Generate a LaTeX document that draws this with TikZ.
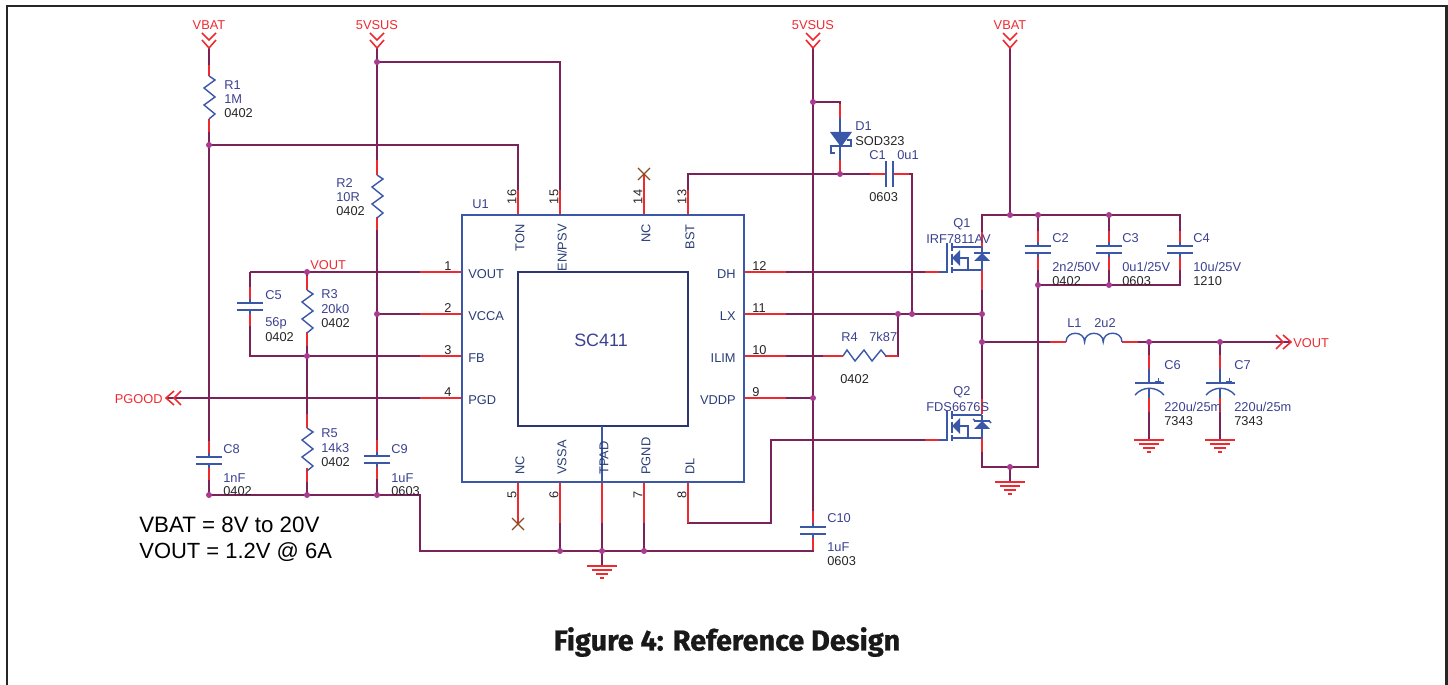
\documentclass[tikz,border=0pt]{standalone}
\usepackage{fontspec}
\setmainfont{Liberation Sans}
\newfontfamily\capfont[BoldFeatures={FakeBold=.8}]{Fira Sans}
\definecolor{wirecol}{HTML}{7B2358}
\definecolor{pincol}{HTML}{EE2A30}
\definecolor{symcol}{HTML}{3A57A8}
\definecolor{txtcol}{HTML}{3B4190}
\definecolor{dotcol}{HTML}{A83C92}
\definecolor{nccol}{HTML}{8A4A22}
\tikzset{
  wire/.style={wirecol, line width=.85pt},
  pinline/.style={pincol, line width=.8pt},
  sym/.style={symcol, line width=.8pt},
  txtblue/.style={txtcol, anchor=west, inner sep=0pt, font=\fontsize{7.3}{8}\selectfont},
  txtblack/.style={black!85, anchor=west, inner sep=0pt, font=\fontsize{7.3}{8}\selectfont},
  txtred/.style={pincol, inner sep=0pt, font=\fontsize{7.3}{8}\selectfont},
  txtpin/.style={symcol!70!black, inner sep=0pt, font=\fontsize{7.3}{8}\selectfont},
  res/.pic={\draw[sym] (0,0) -- (6,4) -- (-5,12) -- (6,21) -- (-5,29) -- (6,38) -- (0,43);},
  cap/.pic={\draw[sym] (-13,0) -- (13,0) (-13,7) -- (13,7) (0,-4) -- (0,0) (0,7) -- (0,11);},
  capside/.pic={\draw[sym] (-13,0) -- (13,0) (-13,7) -- (13,7);},
  polcap/.pic={
    \draw[sym] (0,-14) -- (0,0) (-14,0) -- (15,0) (0,6) -- (0,15);
    \draw[sym] (-14,12) .. controls (-6,3) and (7,3) .. (15,12);
    \draw[sym, line width=.5pt] (6,-2) -- (12,-2) (9,-5) -- (9,1);
  },
  gnd/.pic={\draw[pincol, line width=1pt] (-15,0) -- (15,0) (-10,4) -- (10,4) (-6,8) -- (6,8) (-2,12) -- (2,12);},
  port/.pic={\draw[pincol, line width=.9pt] (-7,-8) -- (0,0) -- (7,-8) (-7,-15) -- (0,-8) -- (7,-15);},
  ncmark/.pic={\draw[nccol, line width=.7pt] (-6,-6) -- (6,6) (-6,6) -- (6,-6);},
  fet/.pic={
    \draw[sym] (-8,0) -- (0,0) -- (0,-29);
    \draw[sym] (5,-29) -- (5,-21) (5,-18) -- (5,-7) (5,-5) -- (5,1);
    \draw[sym] (5,-25) -- (35,-25) (5,-2) -- (35,-2) (35,-25) -- (35,-2);
    \fill[symcol] (5,-14) -- (13,-22) -- (13,-6) -- cycle;
    \draw[sym] (13,-14) -- (21,-14) -- (21,-2);
    \fill[symcol] (35,-19) -- (27,-11) -- (43,-11) -- cycle;
    \draw[sym] (27,-19) -- (43,-19);
  },
}
\begin{document}
\begin{tikzpicture}[x=.02cm, y=-.02cm]
  \useasboundingbox (0,0) rectangle (1448,685);
  \foreach \n/\x/\y in {
    fa/7/685, fb/7/6, fc/1446.5/6, fd/1446.5/685,
    pbata/209/48, psusa/377/48, psusb/813/48, pbatb/1010/48, ppg/166/398, pvo/1291/342,
    r1a/209/76, r1b/209/119, r2a/377/175, r2b/377/217, r3a/307/290, r3b/307/332,
    r5a/307/428, r5b/307/468, r4a/843/356, r4b/885/356,
    c8a/209/457, c8b/209/464, c9a/377/456, c9b/377/463, c5a/250/303, c5b/250/310,
    c10a/813/527, c10b/813/534, c2a/1038/246, c2b/1038/253, c3a/1109/246, c3b/1109/253,
    c4a/1180/246, c4b/1180/253, c1a/886/174, c1b/893/174, c6a/1149/369, c6b/1149/398,
    c7a/1220/369, c7b/1220/398,
    pin16/518/215, pin15/560/215, pin14/644/215, pin13/688/215,
    pin1/462/272, pin2/462/314, pin3/462/356, pin4/462/398,
    pin12/744/272, pin11/744/314, pin10/744/356, pin9/744/398,
    pin5/518/482, pin6/560/482, pintp/602/482, pin7/644/482, pin8/688/482,
    jra/209/145, jrb/209/495, jrc/307/495, jrd/377/495, jre/420/495, jrf/420/551,
    jsa/377/62, jsb/377/314, jsc/307/272, jsd/307/356, cvt/250/272, cvb/250/356,
    jba/560/551, jbb/602/551, jbc/644/551, jbd/813/551,
    jda/813/102, jdb/840/102, da/840/118, db/840/160, jdc/840/174, jdd/688/174, jde/912/174,
    jlx/912/314, jsw/982/314, jr4/898/314, r4c/898/356, jvd/813/398,
    q1g/947/272, q2g/947/440, q1d/982/247, q1s/982/270, q2d/982/414, q2s/982/437,
    jta/982/215, jtb/1010/215, jtc/1038/215, jtd/1109/215, jte/1180/215,
    jua/1038/285, jub/1109/285, juc/1180/285, jva/1038/467, jvb/1010/467, jvc/982/467,
    jl/982/342, l1a/1066/342, l1b/1122/342, jc6/1149/342, jc7/1220/342,
    p8a/688/523, p8b/771/523, p8c/771/440, x14/644/174, x5/518/524,
    g1/602/566, g2/1010/482, g3/1149/440, g4/1220/440, uta/462/215, utb/744/482, uia/518/272, uib/688/426, tpt/602/426}
    \coordinate (\n) at (\x,\y);
  \draw [black!85, line width=1.2pt] (fa) -- (fb) -- (fc) -- (fd);
  % wires
  \draw [wire] (pbata) -- (r1a) (r1b) -- (jra) -- (c8a) (c8b) -- (jrb) -- (jre) -- (jrf) -- (jbd) -- (c10b);
  \draw [wire] (jra) -| (pin16) (psusa) -- (r2a) (jsa) -| (pin15) (r2b) -- (c9a) (c9b) -- (jrd);
  \draw [wire] (jsb) -- (pin2) (cvt) -- (pin1) (cvt) -- (c5a) (c5b) -- (cvb) -- (pin3);
  \draw [wire] (jsc) -- (r3a) (r3b) -- (r5a) (r5b) -- (jrc) (ppg) -- (pin4);
  \draw [wire] (pin6) -- (jba) (pintp) -- (g1) (pin7) -- (jbc);
  \draw [wire] (pin8) -- (p8a) -- (p8b) -- (p8c) -- (q2g);
  \draw [wire] (pin13) -- (jdd) -- (c1a) (c1b) -- (jde) -- (jlx);
  \draw [wire] (pin12) -- (q1g) (pin11) -- (jsw) (pin10) -- (r4a) (r4b) -- (r4c) -- (jr4) (pin9) -- (jvd);
  \draw [wire] (psusb) -- (c10a) (jda) -- (jdb) -- (da) (db) -- (jdc);
  \draw [wire] (pbatb) -- (jtb) (q1d) -- (jta) -- (jte) -- (c4a) (jtc) -- (c2a) (jtd) -- (c3a);
  \draw [wire] (c2b) -- (jva) -- (jvc) -- (q2s) (jua) -- (juc) -- (c4b) (c3b) -- (jub);
  \draw [wire] (q1s) -- (q2d) (jvb) -- (g2) (jl) -- (l1a) (l1b) -- (pvo);
  \draw [wire] (jc6) -- (c6a) (c6b) -- (g3) (jc7) -- (c7a) (c7b) -- (g4);
  % red pin ends
  \foreach \n/\dx/\dy in {
    r1a/0/-11, r1b/0/13, r2a/0/-15, r2b/0/13, r3a/0/-14, r3b/0/14, r5a/0/-14, r5b/0/14,
    r4a/-20/0, r4b/13/0, c8a/0/-16, c8b/0/16, c9a/0/-16, c9b/0/16, c5a/0/-16, c5b/0/16,
    c10a/0/-16, c10b/0/16, c2a/0/-15, c2b/0/17, c3a/0/-15, c3b/0/17, c4a/0/-15, c4b/0/17,
    c1a/-16/0, c1b/16/0, c6a/0/-14, c6b/0/14, c7a/0/-14, c7b/0/14, da/0/-14, db/0/14,
    pin16/0/-25, pin15/0/-25, pin14/0/-41, pin13/0/-25,
    pin1/-42/0, pin2/-42/0, pin3/-42/0, pin4/-42/0,
    pin12/42/0, pin11/42/0, pin10/42/0, pin9/42/0,
    pin5/0/42, pin6/0/41, pintp/0/41, pin7/0/41, pin8/0/41,
    l1a/-16/0, l1b/16/0, q1d/0/-15, q1s/0/20, q2d/0/-15, q2s/0/15}
    \draw [pinline] (\n) -- ++(\dx,\dy);
  \draw [pincol, line width=.8pt] (q1g) ++(-22,0) -- ++(14,0);
  \draw [pincol, line width=.8pt] (q2g) ++(-22,0) -- ++(14,0);
  % chip
  \draw [symcol, line width=1pt] (uta) rectangle (utb);
  \draw [txtcol!80!black, line width=1.1pt] (uia) rectangle (uib);
  \draw [sym] (tpt) -- (pintp);
  \node [txtcol, inner sep=0pt, font=\fontsize{10.2}{11}\selectfont] (usc) at (601,340) {SC411};
  % parts
  \pic at (r1a) {res}; \pic at (r2a) {res}; \pic at (r3a) {res}; \pic at (r5a) {res};
  \pic [rotate=90] at (r4a) {res};
  \pic at (c8a) {cap}; \pic at (c9a) {cap}; \pic at (c5a) {cap}; \pic at (c10a) {cap};
  \pic at (c2a) {cap}; \pic at (c3a) {cap}; \pic at (c4a) {cap};
  \pic [rotate=90] at (c1a) {capside};
  \pic at (1149,383) {polcap}; \pic at (1220,383) {polcap};
  \pic at (g1) {gnd}; \pic at (g2) {gnd}; \pic at (g3) {gnd}; \pic at (g4) {gnd};
  \pic at (pbata) {port}; \pic at (psusa) {port}; \pic at (psusb) {port}; \pic at (pbatb) {port};
  \pic [rotate=90] at (pvo) {port}; \pic [rotate=-90] at (ppg) {port};
  \pic at (x14) {ncmark}; \pic at (x5) {ncmark};
  \pic at (q1g) {fet}; \pic at (q2g) {fet};
  \draw [sym] (975,421) -- (973,419) (989,421) -- (991,423);
  \draw [sym] (da) -- (db);
  \fill [symcol] (830,132) -- (852,132) -- (841,147) -- cycle;
  \draw [sym] (835,153) -- (831,153) -- (831,146) -- (851,146) -- (851,140) -- (847,140);
  \draw [sym] (l1a) to[out=90, in=90, looseness=1.6] ++(18.6,0) to[out=90, in=90, looseness=1.6] ++(18.6,0) to[out=90, in=90, looseness=1.6] ++(18.8,0);
  % junctions
  \foreach \n in {jra, jrb, jrc, jrd, jsa, jsb, jsc, jsd, jba, jbb, jbc, jda, jdc, jlx, jsw, jr4, jvd, jl,
    jtb, jtc, jtd, jua, jub, jvb, jc6, jc7}
    \fill [dotcol] (\n) circle [radius=3];
  % blue labels
  \foreach \n/\x/\y/\t in {
    la/224/85/R1, lb/224/99/1M, lc/336/183/R2, ld/336/197/10R, le/321/294/R3, lf/321/309/20k0,
    lg/321/433/R5, lh/321/448/14k3, li/265/295/C5, lj/265/323/56p, lk/223/449/C8, ll/223/478/1nF,
    lm/391/449/C9, ln/391/478/1uF, lo/827/518/C10, lp/827/547/1uF, lq/841/337/R4, lr/869/337/7k87,
    ls/855/126/D1, lt/869/155/C1, lu/897/155/0u1, lv/953/224/Q1, lw/926/239/IRF7811AV,
    lx/953/392/Q2, ly/926/407/FDS6676S, lz/1052/238/C2, ma/1052/267/{2n2/50V}, mb/1122/238/C3,
    mc/1122/267/{0u1/25V}, md/1193/238/C4, me/1193/267/{10u/25V}, mf/1067/323/L1, mg/1094/323/2u2,
    mh/1164/365/C6, mi/1164/407/{220u/25m}, mj/1234/365/C7, mk/1234/407/{220u/25m}, ml/472/204/U1}
    \node [txtblue] (\n) at (\x,\y) {\t};
  % black labels
  \foreach \n/\x/\y/\t in {
    ba/224/113/0402, bb/336/211/0402, bc/321/323/0402, bd/321/462/0402, be/265/337/0402,
    bf/223/491/0402, bg/391/491/0603, bh/827/561/0603, bi/840/379/0402, bj/855/141/SOD323,
    bk/869/197/0603, bl/1052/281/0402, bm/1122/281/0603, bn/1193/281/1210, bo/1164/421/7343,
    bp/1234/421/7343}
    \node [txtblack] (\n) at (\x,\y) {\t};
  % red labels
  \node [txtred] (vbata) at (209,25) {VBAT};
  \node [txtred] (susa) at (377,25) {5VSUS};
  \node [txtred] (susb) at (813,25) {5VSUS};
  \node [txtred] (vbatb) at (1010,25) {VBAT};
  \node [txtred, anchor=west] (vouta) at (310,265) {VOUT};
  \node [txtred, anchor=west] (voutb) at (1293,343) {VOUT};
  \node [txtred, anchor=east] (pgood) at (163,399) {PGOOD};
  % pin names and numbers
  \foreach \n/\y/\t/\k in {sa/274/VOUT/1, sb/316/VCCA/2, sc/358/FB/3, sd/400/PGD/4}{
    \node [txtpin, anchor=west] (\n) at (468,\y) {\t};
    \node [txtblack, anchor=center] (\n num) at (448,\y-8) {\k};
  }
  \foreach \n/\y/\t/\k in {se/274/DH/12, sf/316/LX/11, sg/358/ILIM/10, sh/400/VDDP/9}{
    \node [txtpin, anchor=east] (\n) at (736,\y) {\t};
    \node [txtblack] (\n num) at (752,\y-8) {\k};
  }
  \foreach \n/\x/\t/\k in {ta/520/TON/16, tb/562/EN\slash PSV/15, tc/646/NC/14, td/690/BST/13}{
    \node [txtpin, rotate=90, anchor=east] (\n) at (\x,224) {\t};
    \node [txtblack, rotate=90, anchor=center] (\n num) at (\x-8,197) {\k};
  }
  \foreach \n/\x/\t in {tf/520/NC, tg/562/VSSA, th/604/TPAD, ti/646/PGND, tj/690/DL}
    \node [txtpin, rotate=90, anchor=west] (\n) at (\x,475) {\t};
  \foreach \n/\x/\k in {na/512/5, nb/554/6, nc/638/7, nd/682/8}
    \node [txtblack, rotate=90, anchor=center] (\n) at (\x,495) {\k};
  % notes
  \node [black, anchor=west, inner sep=0pt, font=\fontsize{12.7}{14}\selectfont] (nota) at (139,525) {VBAT = 8V to 20V};
  \node [black, anchor=west, inner sep=0pt, font=\fontsize{12.5}{14}\selectfont] (notb) at (139,552) {VOUT = 1.2V @ 6A};
  \node [black!90, inner sep=0pt, font=\capfont\bfseries\fontsize{16.4}{18}\selectfont] (fig) at (727,642) {Figure 4: Reference Design};
\end{tikzpicture}
\end{document}
